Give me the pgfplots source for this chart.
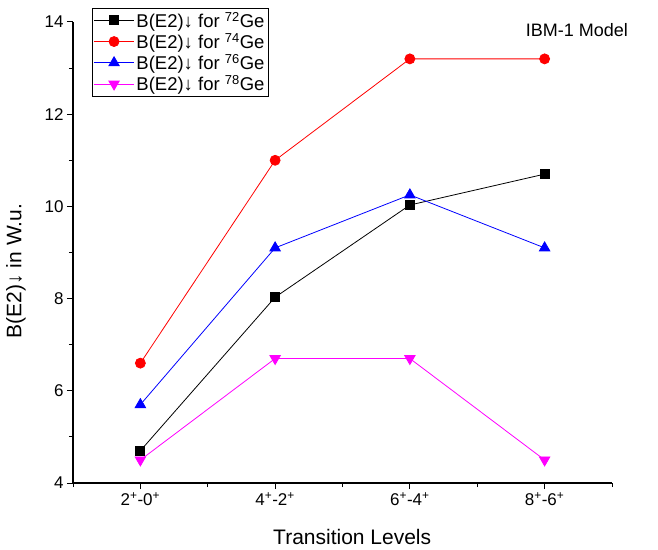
\documentclass[border=0pt]{standalone}
\usepackage{fontspec}
\setmainfont{Liberation Sans}
\usepackage{pgfplots}
\pgfplotsset{compat=1.18}
\definecolor{pmag}{RGB}{255,0,255}
\begin{document}
\begin{tikzpicture}
\useasboundingbox (-73bp,-67bp) rectangle (585bp,483bp);
\begin{axis}[
    scale only axis,
    width=539bp, height=461bp,
    at={(0,0)}, anchor=south west,
    clip=false,
    xmin=-0.5, xmax=3.5, ymin=4, ymax=14,
    axis lines=left, axis line style={-, line width=1.2pt},
    tick align=outside,
    major tick length=6bp, minor tick length=4bp,
    every tick/.style={black, line width=1pt},
    xtick={0,1,2,3},
    xticklabels={2\textsuperscript{+}-0\textsuperscript{+},4\textsuperscript{+}-2\textsuperscript{+},6\textsuperscript{+}-4\textsuperscript{+},8\textsuperscript{+}-6\textsuperscript{+}},
    minor xtick={-0.5,0.5,1.5,2.5,3.5},
    ytick={4,6,8,10,12,14},
    minor ytick={5,7,9,11,13},
    /pgf/number format/assume math mode=true,
    ticklabel style={font=\fontsize{17bp}{20bp}\selectfont},
    xlabel={Transition Levels},
    ylabel={B(E2)↓ in W.u.},
    label style={font=\fontsize{21bp}{24bp}\selectfont},
    xlabel style={at={(axis description cs:0.518,-0.117)}, anchor=center},
    ylabel style={at={(axis description cs:-0.106,0.46)}, anchor=center, rotate=0},
    legend style={at={(axis description cs:0.035,1.03)}, anchor=north west,
        draw=black, line width=0.6pt, font=\fontsize{18.5bp}{21bp}\selectfont,
        row sep=0.5bp, inner sep=1.5bp},
    legend cell align=left,
    legend image code/.code={\draw[mark repeat=2, mark phase=2] plot coordinates {(0bp,0bp) (20bp,0bp) (40bp,0bp)};},
    every axis plot/.append style={line width=0.8pt},
]
\addplot[black, mark=square*, mark size=4.5bp] coordinates {(0,4.7) (1,8.03) (2,10.03) (3,10.7)};
\addlegendentry{B(E2)↓ for \textsuperscript{72}Ge}
\addplot[red, mark=*, mark size=5bp] coordinates {(0,6.6) (1,11.0) (2,13.2) (3,13.2)};
\addlegendentry{B(E2)↓ for \textsuperscript{74}Ge}
\addplot[blue, mark=triangle*, mark size=6bp] coordinates {(0,5.7) (1,9.1) (2,10.25) (3,9.1)};
\addlegendentry{B(E2)↓ for \textsuperscript{76}Ge}
\addplot[pmag, mark=triangle*, mark size=6bp, mark options={rotate=180}] coordinates {(0,4.5) (1,6.7) (2,6.7) (3,4.5)};
\addlegendentry{B(E2)↓ for \textsuperscript{78}Ge}
\node[font=\fontsize{18bp}{21bp}\selectfont] at (axis description cs:0.935,0.983) {IBM-1 Model};
\end{axis}
\end{tikzpicture}
\end{document}
